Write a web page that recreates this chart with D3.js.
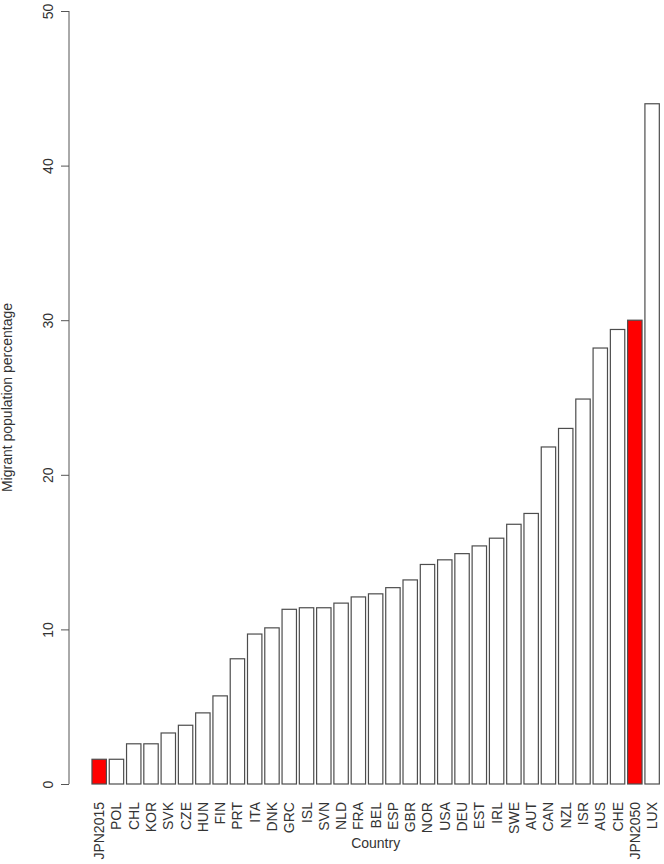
<!DOCTYPE html>
<html>
<head>
<meta charset="utf-8">
<script src="https://cdn.jsdelivr.net/npm/d3@7"></script>
<style>
  body { margin: 0; background: #fff; }
  svg text { font-family: "Liberation Sans", Arial, Helvetica, sans-serif; fill: #333; }
</style>
</head>
<body>
<div id="chart"></div>
<script>
'use strict'

var width = 664
var height = 864

// countries, sorted as in the figure
var countries = ['JPN2015', 'POL', 'CHL', 'KOR', 'SVK', 'CZE', 'HUN', 'FIN', 'PRT', 'ITA', 'DNK',
  'GRC', 'ISL', 'SVN', 'NLD', 'FRA', 'BEL', 'ESP', 'GBR', 'NOR', 'USA', 'DEU', 'EST', 'IRL',
  'SWE', 'AUT', 'CAN', 'NZL', 'ISR', 'AUS', 'CHE', 'JPN2050', 'LUX']
var migrantPct = [1.6, 1.6, 2.6, 2.6, 3.3, 3.8, 4.6, 5.7, 8.1, 9.7, 10.1,
  11.3, 11.4, 11.4, 11.7, 12.1, 12.3, 12.7, 13.2, 14.2, 14.5, 14.9, 15.4, 15.9,
  16.8, 17.5, 21.8, 23.0, 24.9, 28.2, 29.4, 30.0, 44.0]
var highlighted = ['JPN2015', 'JPN2050']
var yTicks = [0, 10, 20, 30, 40, 50]

var data = countries.map((c, i) => ({ name: c, value: migrantPct[i] }))

var svg = d3.select('#chart').append('svg')
  .attr('width', width)
  .attr('height', height)

var x = d3.scaleBand()
  .domain(countries)
  .range([89.1, 662.2])
  .paddingInner(1 / 6)
  .paddingOuter(1 / 6)

var y = d3.scaleLinear()
  .domain([0, 50])
  .range([784, 11])

// bars
svg.append('g')
  .selectAll('rect')
  .data(data)
  .join('rect')
  .attr('x', d => x(d.name))
  .attr('y', d => y(d.value))
  .attr('width', x.bandwidth())
  .attr('height', d => y(0) - y(d.value))
  .attr('fill', d => highlighted.includes(d.name) ? '#ff0000' : '#ffffff')
  .attr('stroke', '#4d4d4d')
  .attr('stroke-width', 1.2)

// y axis, R style: rotated labels
var yAxis = svg.append('g')
  .attr('transform', 'translate(69,0)')
  .call(d3.axisLeft(y).tickValues(yTicks).tickSize(8).tickSizeOuter(0).tickPadding(0))

yAxis.select('.domain').attr('stroke', '#555').attr('d', 'M0,' + y(0) + 'V' + y(50))
yAxis.selectAll('.tick line').attr('stroke', '#555')
yAxis.selectAll('.tick text')
  .attr('x', null)
  .attr('dy', null)
  .attr('transform', 'translate(-21,0) rotate(-90)')
  .attr('text-anchor', 'middle')
  .attr('dominant-baseline', 'central')
  .style('font-size', '14px')
  .style('fill', '#333')

// x labels, vertical
svg.append('g')
  .selectAll('text')
  .data(countries)
  .join('text')
  .attr('transform', d => 'translate(' + (x(d) + x.bandwidth() / 2) + ',802) rotate(-90)')
  .attr('text-anchor', 'end')
  .attr('dominant-baseline', 'central')
  .style('font-size', '14px')
  .text(d => d)

// axis titles
svg.append('text')
  .attr('x', (x.range()[0] + x.range()[1]) / 2)
  .attr('y', 848)
  .attr('text-anchor', 'middle')
  .style('font-size', '14px')
  .text('Country')

svg.append('text')
  .attr('transform', 'translate(12,' + (y(0) + y(50)) / 2 + ') rotate(-90)')
  .attr('text-anchor', 'middle')
  .style('font-size', '14px')
  .text('Migrant population percentage')
</script>
</body>
</html>
